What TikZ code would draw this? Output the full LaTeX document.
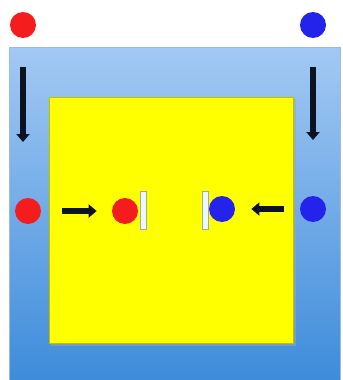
\documentclass[tikz,border=0pt]{standalone}
\usepackage{tikz}
\usetikzlibrary{arrows.meta,positioning,calc}
\definecolor{boxtop}{HTML}{A3C9F3}
\definecolor{boxbot}{HTML}{3E8CDA}
\definecolor{boxfill}{HTML}{FFFF00}
\definecolor{dotred}{HTML}{F41C1C}
\definecolor{dotblue}{HTML}{2323EC}
\definecolor{arrink}{HTML}{0B1222}

\begin{document}
\begin{tikzpicture}[x=0.2mm,y=-0.2mm,
      dot/.style={circle,inner sep=0pt,minimum size=5.2mm},
      wall/.style={draw=gray!70,fill=white!92!cyan,inner sep=0pt,minimum width=1.2mm,minimum height=7.6mm},
      arr/.style={-{Triangle[length=1.6mm,width=2.6mm]},line width=1.2mm,arrink}
    ]
    \useasboundingbox (0,0) rectangle (343,380);
    % outer and inner boxes
    \shade[top color=boxtop,bottom color=boxbot,draw=boxtop!80!gray] (9,47) rectangle (340,380);
    \fill[black!35,opacity=0.5] (51,99) rectangle (296,346);
    \filldraw[fill=boxfill,draw=boxfill!75!black] (49,97) rectangle (293,343);
    % particles
    \node[dot,fill=dotred] (rTop) at (23,25) {};
    \node[dot,fill=dotblue] (bTop) at (313,25) {};
    \node[dot,fill=dotred] (rMid) at (28,211) {};
    \node[dot,fill=dotred] (rIn) at (125,211) {};
    \node[dot,fill=dotblue] (bMid) at (313,209) {};
    \node[dot,fill=dotblue] (bIn) at (222,209) {};
    \node[wall] (wallL) at (143,210) {};
    \node[wall] (wallR) at (205,210) {};
    \draw[arr,shorten <=5.8mm,shorten >=13.8mm] (rTop) -- (rTop |- rMid);
    \draw[arr,shorten <=5.8mm,shorten >=13.8mm] (bTop) -- (bTop |- bMid);
    \draw[arr,shorten <=4.2mm,shorten >=3mm] (rMid) -- (rIn);
    \draw[arr,shorten <=3.2mm,shorten >=3.2mm] (bMid) -- (bIn);
  \end{tikzpicture}
\end{document}
